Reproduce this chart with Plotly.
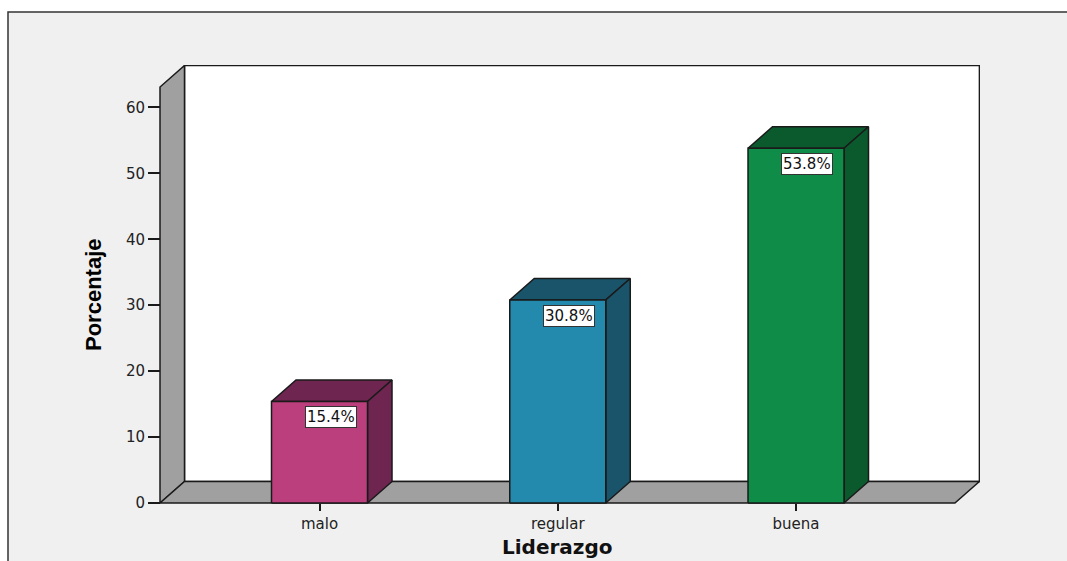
import plotly.graph_objects as go

# ---- data ----
categories = ["malo", "regular", "buena"]
values = [15.4, 30.8, 53.8]
value_labels = ["15.4%", "30.8%", "53.8%"]
y_ticks = [0, 10, 20, 30, 40, 50, 60]
x_title = "Liderazgo"
y_title = "Porcentaje"

front_colors = ["#bc3f7d", "#2389ad", "#0e8c48"]
dark_colors = ["#6e2550", "#19546b", "#0a5a2e"]

# ---- geometry (data units) ----
S = 238.25          # px per category
P = 6.593           # px per percent
DX = 24.5 / S       # depth offset x
DY = 21.5 / P       # depth offset y
W = 96 / S          # bar width
XL, XR = -0.6695, 2.667   # floor front edge
WALL_TOP = 63.1

L_M, R_M, T_M, B_M = 157, 87, 65, 55
plot_w = 1067 - L_M - R_M
plot_h = 561 - T_M - B_M
xmin = XL - 3 / S
xmax = xmin + plot_w / S
ymin = -3 / P
ymax = ymin + plot_h / P

EDGE = "#1a1a1a"
LW = 1.5

fig = go.Figure()


def poly(xs, ys, color):
    fig.add_trace(go.Scatter(
        x=list(xs) + [xs[0]], y=list(ys) + [ys[0]],
        mode="lines", fill="toself", fillcolor=color,
        line=dict(color=EDGE, width=LW), hoverinfo="skip", showlegend=False))


# back wall
poly([XL + DX, XR + DX, XR + DX, XL + DX], [DY, DY, WALL_TOP + DY, WALL_TOP + DY], "#ffffff")
# left wall
poly([XL, XL + DX, XL + DX, XL], [0, DY, WALL_TOP + DY, WALL_TOP], "#a0a0a0")
# floor
poly([XL, XR, XR + DX, XL + DX], [0, 0, DY, DY], "#a0a0a0")

# bars
for i, (v, fc, dc) in enumerate(zip(values, front_colors, dark_colors)):
    x0, x1 = i - W / 2, i + W / 2
    poly([x0, x1, x1 + DX, x0 + DX], [v, v, v + DY, v + DY], dc)          # top
    poly([x1, x1 + DX, x1 + DX, x1], [0, DY, v + DY, v], dc)              # side
    poly([x0, x1, x1, x0], [0, 0, v, v], fc)                              # front

annotations = []
for i, (v, t) in enumerate(zip(values, value_labels)):
    annotations.append(dict(
        x=i + 11 / S, y=v, xref="x", yref="y", text=t, showarrow=False,
        yanchor="top", yshift=-5, bgcolor="#ffffff", bordercolor="#333333",
        borderwidth=1, borderpad=1,
        font=dict(family="DejaVu Sans", size=15, color="#111111")))

annotations.append(dict(
    x=(557 - L_M) / plot_w, y=(561 - B_M - 560) / plot_h, xref="paper", yref="paper",
    text="<b>" + x_title + "</b>", showarrow=False, yanchor="bottom", xanchor="center",
    borderpad=0,
    font=dict(family="DejaVu Sans", size=20, color="#111111")))
annotations.append(dict(
    x=(93 - L_M) / plot_w, y=(561 - B_M - 295) / plot_h, xref="paper", yref="paper",
    text="<b>" + y_title + "</b>", showarrow=False, textangle=-90,
    xanchor="center", yanchor="middle",
    font=dict(family="Liberation Sans Narrow, Arial Narrow, Liberation Sans, sans-serif",
              size=22, color="#000000")))

fig.update_layout(
    width=1067, height=561,
    margin=dict(l=L_M, r=R_M, t=T_M, b=B_M),
    paper_bgcolor="#ffffff", plot_bgcolor="rgba(0,0,0,0)",
    showlegend=False,
    annotations=annotations,
    shapes=[dict(type="rect", xref="paper", yref="paper",
                 x0=(8 - L_M) / plot_w, x1=(1080 - L_M) / plot_w,
                 y0=(561 - B_M - 580) / plot_h, y1=(561 - B_M - 12) / plot_h,
                 fillcolor="#f0f0f0", line=dict(color="#333333", width=1.5),
                 layer="below")],
    xaxis=dict(range=[xmin, xmax], tickvals=list(range(len(categories))),
               ticktext=categories, ticks="outside", ticklen=7, tickwidth=1.5,
               tickcolor=EDGE, showgrid=False, zeroline=False, showline=False,
               anchor="free", position=3 / plot_h,
               tickfont=dict(family="DejaVu Sans", size=15, color="#222222")),
    yaxis=dict(range=[ymin, ymax], tickvals=y_ticks, ticks="outside", ticklen=12,
               tickwidth=1.5, tickcolor=EDGE, showgrid=False, zeroline=False,
               showline=False, anchor="free", position=3 / plot_w,
               tickfont=dict(family="DejaVu Sans", size=15, color="#222222")),
)

fig.write_html("out.html")
